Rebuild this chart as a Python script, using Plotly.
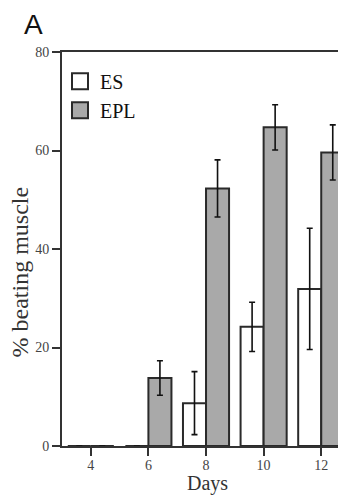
import plotly.graph_objects as go

days = [4, 6, 8, 10, 12]
es_values = [0, 0, 8.7, 24.2, 31.9]
es_errors = [0, 0, 6.4, 5.0, 12.3]
epl_values = [0, 13.8, 52.3, 64.7, 59.6]
epl_errors = [0, 3.5, 5.8, 4.6, 5.6]
y_ticks = [0, 20, 40, 60, 80]
series_names = ["ES", "EPL"]
series_fill = ["white", "#a9a9a9"]

serif = "Liberation Serif, Times New Roman, serif"
edge = "#2a2a2a"

fig = go.Figure()
for name, vals, errs, fill in zip(series_names, [es_values, epl_values],
                                  [es_errors, epl_errors], series_fill):
    fig.add_trace(go.Bar(
        name=name, x=days, y=vals, showlegend=False,
        marker=dict(color=fill, line=dict(color=edge, width=2)),
        error_y=dict(type="data", array=[e if e > 0 else None for e in errs],
                     visible=True, color="#111", thickness=1.6, width=3),
    ))
# legend entries (larger square swatches, as in the reference)
for name, fill in zip(series_names, series_fill):
    fig.add_trace(go.Scatter(
        name=name, x=[None], y=[None], mode="markers",
        marker=dict(symbol="square", size=16, color=fill,
                    line=dict(color=edge, width=2)),
    ))

# the page body adds an 8px offset, so the figure is 8px smaller on each axis
fig.update_layout(
    width=338, height=488,
    margin=dict(l=54, r=0, t=44, b=50),
    barmode="group", bargap=0.2, bargroupgap=0,
    plot_bgcolor="white", paper_bgcolor="white",
    showlegend=True,
    legend=dict(x=-0.007, y=0.975, xanchor="left", yanchor="top",
                font=dict(family=serif, size=20, color="#111"),
                bgcolor="rgba(0,0,0,0)", itemsizing="trace"),
    xaxis=dict(range=[3.0, 12.86], tickvals=days, ticktext=[str(d) for d in days],
               showgrid=False, zeroline=False,
               showline=True, linecolor="#333", linewidth=2, mirror=True,
               ticks="outside", ticklen=8, tickwidth=2, tickcolor="#333",
               ticklabelstandoff=-3,
               tickfont=dict(family=serif, size=14, color="#444")),
    yaxis=dict(range=[0, 80], tickvals=y_ticks,
               showgrid=False, zeroline=False,
               showline=True, linecolor="#333", linewidth=2,
               ticks="outside", ticklen=8, tickwidth=2, tickcolor="#333",
               tickfont=dict(family=serif, size=14, color="#444")),
    annotations=[
        dict(text="A", xref="paper", yref="paper", x=-0.102, y=1.1117,
             xanchor="center", yanchor="top", showarrow=False, borderpad=0,
             font=dict(family="Liberation Sans, Arial, sans-serif", size=28,
                       color="#111")),
        dict(text="Days", xref="paper", yref="paper", x=0.511, y=-0.1266,
             xanchor="center", yanchor="bottom", showarrow=False, borderpad=0,
             font=dict(family=serif, size=20, color="#333")),
        dict(text="% beating muscle", xref="paper", yref="paper", x=-0.148, y=0.443,
             xanchor="center", yanchor="middle", textangle=-90, showarrow=False,
             font=dict(family=serif, size=24, color="#333")),
    ],
)

fig.write_html("out.html")
